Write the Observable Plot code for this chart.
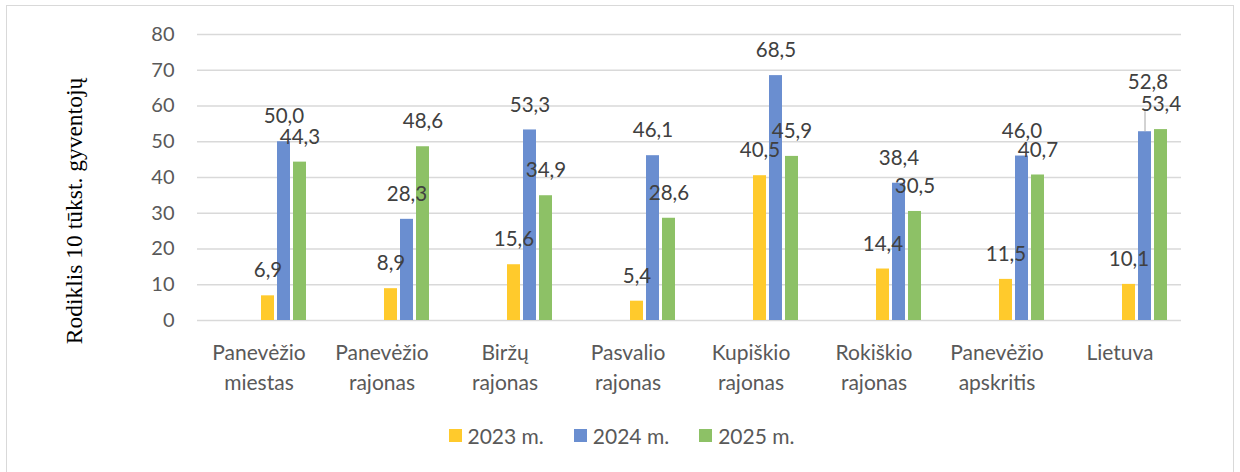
<!DOCTYPE html>
<html>
<head>
<meta charset="utf-8">
<script src="https://cdn.jsdelivr.net/npm/d3@7"></script>
<script src="https://cdn.jsdelivr.net/npm/@observablehq/plot@0.6"></script>
<style>
  html, body { margin: 0; padding: 0; background: #fff; }
  #wrap { position: relative; width: 1240px; height: 472px; overflow: hidden; font-family: Lato, "Open Sans", sans-serif; }
  #frame { position: absolute; left: 6px; top: 5px; width: 1228px; height: 480px; border: 1.5px solid #d9d9d9; box-sizing: border-box; }
  #chart { position: absolute; left: 0; top: 0; }
  #ytitle { position: absolute; left: 74px; top: 211px; transform: translate(-50%, -50%) rotate(-90deg); white-space: nowrap;
            font-family: "Liberation Serif", "Times New Roman", serif; font-size: 23.5px; color: #000; }
  #legend { position: absolute; left: 0; width: 1243px; top: 423px; display: flex; justify-content: center; gap: 30px;
            font-size: 21px; color: #595959; }
  #legend .item { display: flex; align-items: center; gap: 6px; }
  #legend .sw { width: 13px; height: 13px; display: inline-block; }
</style>
</head>
<body>
<div id="wrap">
  <div id="frame"></div>
  <div id="chart"></div>
  <div id="ytitle"></div>
  <div id="legend"></div>
</div>
<script>
const categories = ["Panevėžio miestas", "Panevėžio rajonas", "Biržų rajonas", "Pasvalio rajonas", "Kupiškio rajonas", "Rokiškio rajonas", "Panevėžio apskritis", "Lietuva"];
const series = ["2023 m.", "2024 m.", "2025 m."];
const values2023 = [6.9, 8.9, 15.6, 5.4, 40.5, 14.4, 11.5, 10.1];
const values2024 = [50.0, 28.3, 53.3, 46.1, 68.5, 38.4, 46.0, 52.8];
const values2025 = [44.3, 48.6, 34.9, 28.6, 45.9, 30.5, 40.7, 53.4];
const colors = ["#FFCA2C", "#6A8ED0", "#8DC166"];
const yTicks = [0, 10, 20, 30, 40, 50, 60, 70, 80];
const yTitle = "Rodiklis 10 tūkst. gyventojų";
// label moved up with a leader line in the original
const nudgedLabels = [{cat: "Lietuva", series: "2024 m."}];

const seriesValues = [values2023, values2024, values2025];
const data = [];
categories.forEach((c, i) => series.forEach((s, j) => data.push({cat: c, series: s, value: seriesValues[j][i]})));
const isNudged = d => nudgedLabels.some(n => n.cat === d.cat && n.series === d.series);
const fmt = v => v.toFixed(1).replace(".", ",");

const plot = Plot.plot({
  width: 1240,
  height: 410,
  marginLeft: 197,
  marginRight: 59,
  marginTop: 34,
  marginBottom: 90,
  style: {fontFamily: "Lato, 'Open Sans', sans-serif", fontSize: "19px", color: "#595959", background: "transparent"},
  fx: {domain: categories, paddingInner: 0, paddingOuter: 0, label: null},
  x: {domain: series, axis: null, paddingInner: 0.2, paddingOuter: 2.37, align: 0.814},
  y: {domain: [0, 80], ticks: yTicks, label: null},
  color: {domain: series, range: colors},
  marks: [
    Plot.gridY(yTicks, {stroke: "#d9d9d9", strokeOpacity: 1, strokeWidth: 1.5}),
    Plot.axisY(yTicks, {tickSize: 0, tickPadding: 23, fontSize: 20, fill: "#595959", tickFormat: d => String(d), label: null}),
    Plot.axisFx({anchor: "bottom", tickSize: 0, tickPadding: 18, fontSize: 21, fill: "#595959", lineHeight: 1.43,
                 tickFormat: d => d.replace(" ", "\n"), label: null}),
    Plot.barY(data, {fx: "cat", x: "series", y: "value", fill: "series"}),
    Plot.ruleX(data.filter(isNudged), {fx: "cat", x: "series", y1: "value", y2: "value", insetBottom: 20, stroke: "#a6a6a6", strokeWidth: 1}),
    Plot.text(data.filter(d => !isNudged(d)), {fx: "cat", x: "series", y: "value", text: d => fmt(d.value), dy: -25, fontSize: 20.5, fill: "#404040"}),
    Plot.text(data.filter(isNudged), {fx: "cat", x: "series", y: "value", text: d => fmt(d.value), dy: -49, dx: 3, fontSize: 20.5, fill: "#404040"})
  ]
});
document.getElementById("chart").appendChild(plot);
document.getElementById("ytitle").textContent = yTitle;

const legend = document.getElementById("legend");
series.forEach((s, j) => {
  const item = document.createElement("div");
  item.className = "item";
  const sw = document.createElement("span");
  sw.className = "sw";
  sw.style.background = colors[j];
  const t = document.createElement("span");
  t.textContent = s;
  item.appendChild(sw);
  item.appendChild(t);
  legend.appendChild(item);
});
</script>
</body>
</html>
